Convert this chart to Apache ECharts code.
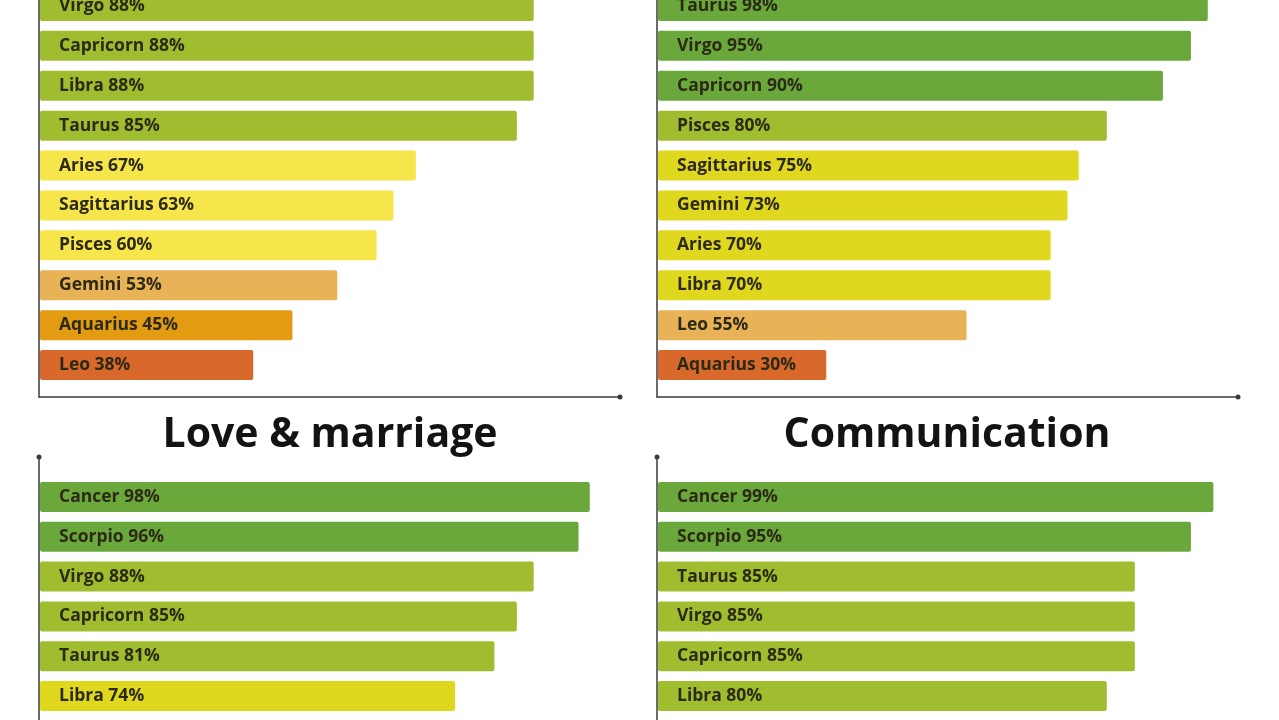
<!DOCTYPE html>
<html>
<head>
<meta charset="utf-8">
<script src="https://cdn.jsdelivr.net/npm/echarts@6/dist/echarts.min.js"></script>
<style>
html,body{margin:0;padding:0;background:#fff;}
#chart{width:1279px;height:720px;}
</style>
</head>
<body>
<div id="chart"></div>
<script>
// ---- data ----
const topLeftCats = ['Virgo','Capricorn','Libra','Taurus','Aries','Sagittarius','Pisces','Gemini','Aquarius','Leo'];
const topLeftVals = [88,88,88,85,67,63,60,53,45,38];
const topRightCats = ['Taurus','Virgo','Capricorn','Pisces','Sagittarius','Gemini','Aries','Libra','Leo','Aquarius'];
const topRightVals = [98,95,90,80,75,73,70,70,55,30];
const loveTitle = 'Love & marriage';
const loveCats = ['Cancer','Scorpio','Virgo','Capricorn','Taurus','Libra'];
const loveVals = [98,96,88,85,81,74];
const commTitle = 'Communication';
const commCats = ['Cancer','Scorpio','Taurus','Virgo','Capricorn','Libra'];
const commVals = [99,95,85,85,85,80];

// colour by score band
function bandColor(v){
  if (v >= 90) return '#6aa83b';
  if (v >= 80) return '#a0bd2f';
  if (v >= 70) return '#e0d81f';
  if (v >= 60) return '#f6e64c';
  if (v >= 50) return '#e8b256';
  if (v >= 40) return '#e39b12';
  return '#d8692b';
}

const chart = echarts.init(document.getElementById('chart'));
const FONT = '"Open Sans", Lato, sans-serif';

const panels = [
  {cats: topLeftCats, vals: topLeftVals, left: 40, top: -14, height: 399},
  {cats: topRightCats, vals: topRightVals, left: 658, top: -14, height: 399},
  {cats: loveCats, vals: loveVals, left: 40, top: 477, height: 239},
  {cats: commCats, vals: commVals, left: 658, top: 477, height: 239}
];
const frames = [
  {left: 39, top: -40, width: 581, height: 437, showX: true},
  {left: 657, top: -40, width: 581, height: 437, showX: true},
  {left: 39, top: 457, width: 581, height: 320, showX: false},
  {left: 657, top: 457, width: 581, height: 320, showX: false}
];

const grid = [], xAxis = [], yAxis = [], series = [];
panels.forEach((p, i) => {
  grid.push({left: p.left, top: p.top, width: 561, height: p.height, containLabel: false, outerBoundsMode: 'none'});
  xAxis.push({type: 'value', gridIndex: i, min: 0, max: 100, show: false});
  yAxis.push({type: 'category', gridIndex: i, data: p.cats, inverse: true, show: false});
  series.push({
    type: 'bar', xAxisIndex: i, yAxisIndex: i, data: p.vals, barWidth: 30,
    itemStyle: {color: (d) => bandColor(d.value), borderRadius: 2},
    label: {
      show: true, position: 'insideLeft', distance: 19,
      formatter: (d) => d.name + ' ' + d.value + '%',
      fontFamily: FONT, fontSize: 17.5, fontWeight: 'bold', color: '#2c2a17'
    },
    silent: true, animation: false
  });
});
frames.forEach((f, j) => {
  const gi = panels.length + j;
  grid.push({left: f.left, top: f.top, width: f.width, height: f.height, containLabel: false, outerBoundsMode: 'none'});
  const line = {show: true, lineStyle: {color: '#3a3a3a', width: 1.5}, symbol: ['none','circle'], symbolSize: [5,5]};
  xAxis.push({type: 'value', gridIndex: gi, min: 0, max: 1, axisLine: f.showX ? line : {show: false},
    axisTick: {show: false}, axisLabel: {show: false}, splitLine: {show: false}});
  yAxis.push({type: 'value', gridIndex: gi, min: 0, max: 1, axisLine: line,
    axisTick: {show: false}, axisLabel: {show: false}, splitLine: {show: false}});
});

chart.setOption({
  backgroundColor: '#ffffff',
  animation: false,
  title: [
    {text: loveTitle, left: 330, top: 415, textAlign: 'center', padding: 0,
     textStyle: {fontFamily: FONT, fontSize: 41, fontWeight: 'bold', color: '#131313'}},
    {text: commTitle, left: 947, top: 415, textAlign: 'center', padding: 0,
     textStyle: {fontFamily: FONT, fontSize: 41, fontWeight: 'bold', color: '#131313'}}
  ],
  grid, xAxis, yAxis, series
});
</script>
</body>
</html>
